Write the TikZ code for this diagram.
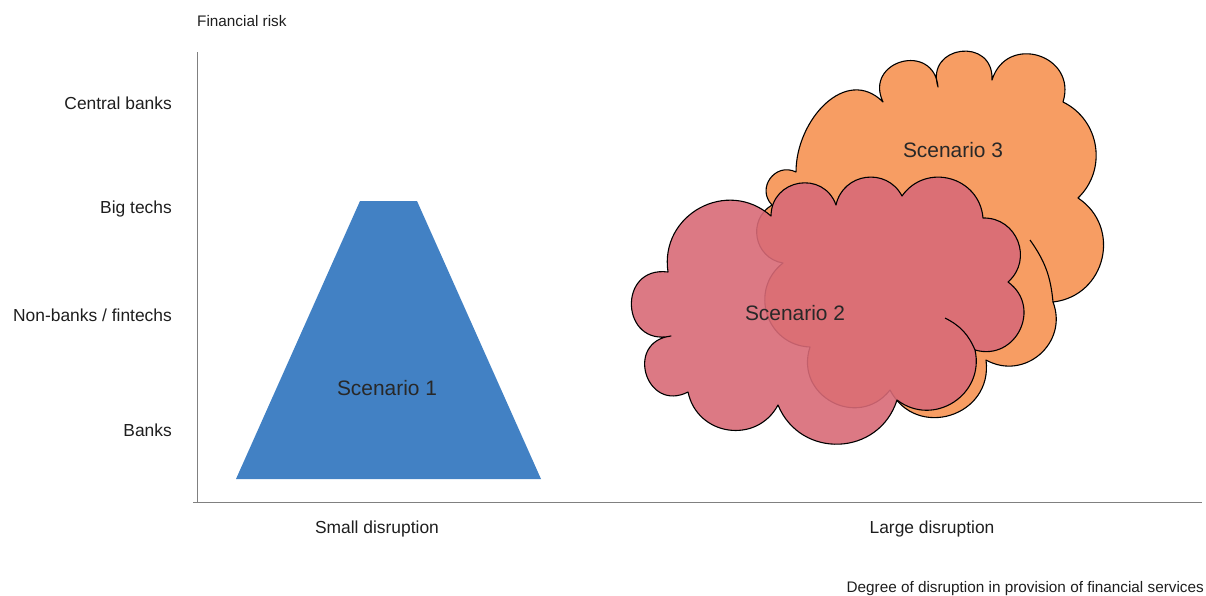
\documentclass[tikz,border=0pt]{standalone}
\usepackage{fontspec}
\setmainfont{Liberation Sans}
\definecolor{axisgray}{RGB}{128,128,128}
\definecolor{blueS}{RGB}{66,129,196}
\definecolor{orng}{RGB}{247,157,99}
\definecolor{pinkS}{RGB}{216,106,119}
\definecolor{txt}{RGB}{30,30,30}
\definecolor{stxt}{RGB}{40,40,40}
\begin{document}
\begin{tikzpicture}[x=1pt,y=-1pt,
  lab/.style={inner sep=0pt, text=txt, font=\fontsize{17.4pt}{20pt}\selectfont, text height=12.4pt, text depth=0pt},
  small/.style={inner sep=0pt, text=txt, font=\fontsize{15.3pt}{18pt}\selectfont, text height=10.9pt, text depth=0pt},
  scen/.style={inner sep=0pt, text=stxt, font=\fontsize{20.9pt}{24pt}\selectfont, text height=15pt, text depth=0pt},
  axis/.style={draw=axisgray, line width=1pt},
  cloudline/.style={draw=black, line width=1.1pt, line join=round},
  p11/.style={bend left=55, looseness=1.08},
  p14/.style={bend left=70, looseness=1.27},
  p16/.style={bend left=80, looseness=1.45},
  p18/.style={bend left=90, looseness=1.7},
  p20/.style={bend left=100, looseness=2.06}]
\useasboundingbox (0,0) rectangle (1206,595);

% axes
\coordinate (ytop) at (197,52);
\coordinate (origin) at (197,502);
\coordinate (xleft) at (193,502);
\coordinate (xright) at (1202,502);
\draw[axis] (ytop) -- (origin);
\draw[axis] (xleft) -- (xright);

% axis labels
\node[small, anchor=west] (frisk) at (197,21) {Financial risk};
\node[lab, anchor=east] (cb) at (172,103) {Central banks};
\node[lab, anchor=east] (bt) at (172,207) {Big techs};
\node[lab, anchor=east] (nb) at (172,315) {Non-banks / fintechs};
\node[lab, anchor=east] (bk) at (172,430) {Banks};
\node[lab] (sd) at (377,527) {Small disruption};
\node[lab] (ld) at (932,527) {Large disruption};
\node[small, anchor=east] (deg) at (1204,587) {Degree of disruption in provision of financial services};

% scenario 1 trapezoid
\fill[blueS] (360,201) -- (417,201) -- (541,479) -- (236,479) -- cycle;
\node[scen] (s1) at (387,388) {Scenario 1};

% scenario 3 cloud (orange)
\path[fill=orng, cloudline]
  (772,205) to[p16] (796,172) to[out=90, in=135, looseness=1.2] (883,102) to[p20] (938,87)
  to[p20] (992,80) to[p18] (1063,102) to[p11] (1078,198)
  to[p14] (1053,302) to[p14] (986,360) to[p16] (890,390)
  to[p16] (810,347) to[p14] (783,263) to[p14] (772,205) -- cycle;
\draw[cloudline] (1030,240) to[bend left=15] (1053,302);
\node[scen] (s3) at (953,150) {Scenario 3};

% scenario 2 cloud (pink, semi-transparent)
\path[fill=pinkS, fill opacity=0.9, cloudline]
  (668,272) to[p14] (771,216) to[p16] (836,205) to[p14] (902,196)
  to[p14] (983,218) to[p14] (1008,282) to[p16] (975,350)
  to[p14] (897,400) to[p14] (778,405) to[p14] (688,392)
  to[p20] (671,336) to[p20] (668,272) -- cycle;
\draw[cloudline] (945,318) to[bend left=20] (975,350);
\node[scen] (s2) at (795,313) {Scenario 2};
\end{tikzpicture}
\end{document}
